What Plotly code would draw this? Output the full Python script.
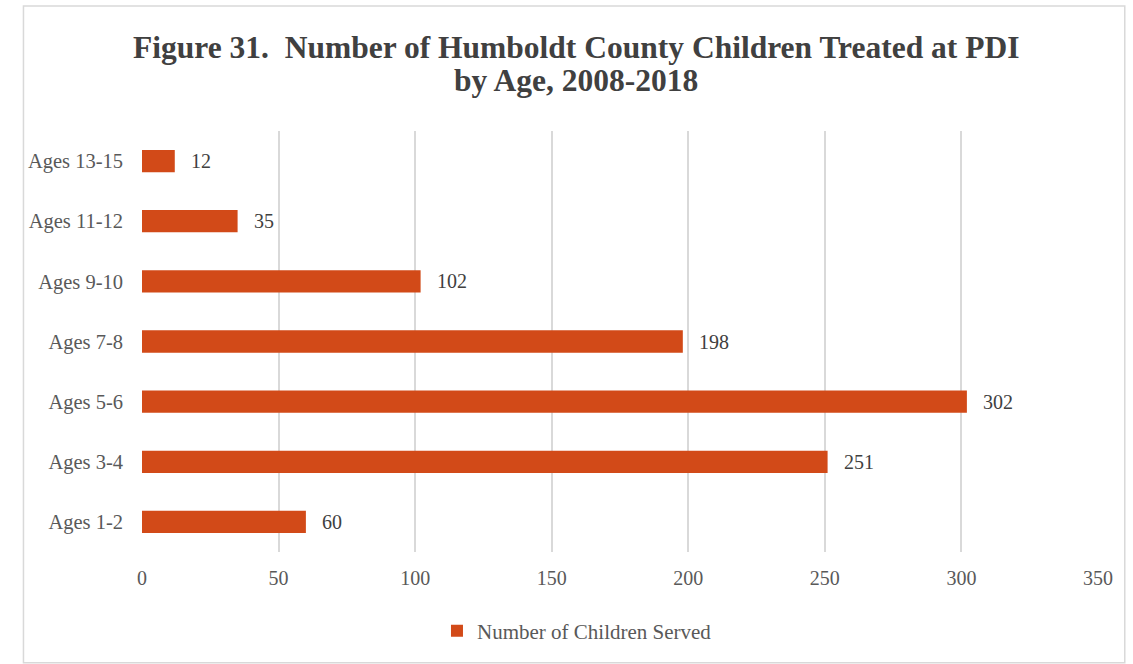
import plotly.graph_objects as go

categories = ["Ages 1-2", "Ages 3-4", "Ages 5-6", "Ages 7-8", "Ages 9-10", "Ages 11-12", "Ages 13-15"]
values = [60, 251, 302, 198, 102, 35, 12]
x_ticks = [0, 50, 100, 150, 200, 250, 300, 350]
series_name = "Number of Children Served"
title_lines = ["Figure 31.  Number of Humboldt County Children Treated at PDI", "by Age, 2008-2018"]

bar_color = "#D24A18"
serif = "Liberation Serif, Times New Roman, serif"

fig = go.Figure()
fig.add_trace(go.Bar(
    y=categories, x=values, orientation="h", name=series_name,
    marker=dict(color=bar_color, line=dict(width=0)),
    width=0.37, showlegend=True,
))

for c, v in zip(categories, values):
    fig.add_annotation(x=v, y=c, text=str(v), showarrow=False, xanchor="left",
                       xshift=14, font=dict(family=serif, size=20, color="#404040"))

for line, ypos in zip(title_lines, [1.1995, 1.121]):
    fig.add_annotation(xref="paper", yref="paper", x=0.4535, y=ypos, text="<b>" + line + "</b>",
                       showarrow=False, xanchor="center", yanchor="middle",
                       font=dict(family=serif, size=31.5, color="#404040"))

fig.update_layout(
    width=1133, height=664,
    margin=dict(l=142, r=35, t=131, b=112),
    paper_bgcolor="white", plot_bgcolor="white",
    xaxis=dict(range=[0, 350], tickvals=x_ticks, showgrid=True, gridcolor="#D9D9D9",
               gridwidth=1.5, zeroline=False, showline=False,
               tickfont=dict(family=serif, size=20, color="#595959"),
               ticklabelstandoff=12),
    yaxis=dict(showgrid=False, zeroline=False, showline=False,
               tickfont=dict(family=serif, size=20.5, color="#595959"),
               ticklabelstandoff=18, range=[-0.5, 6.5]),
    legend=dict(orientation="h", x=0.455, xanchor="center", y=-0.188, yanchor="middle",
                font=dict(family=serif, size=21, color="#595959"), itemwidth=30),
    shapes=[dict(type="rect", xref="paper", yref="paper", x0=-0.124, x1=1.028,
                 y0=-0.263, y1=1.297, line=dict(color="#D9D9D9", width=1.5))],
)

fig.write_html("out.html")
